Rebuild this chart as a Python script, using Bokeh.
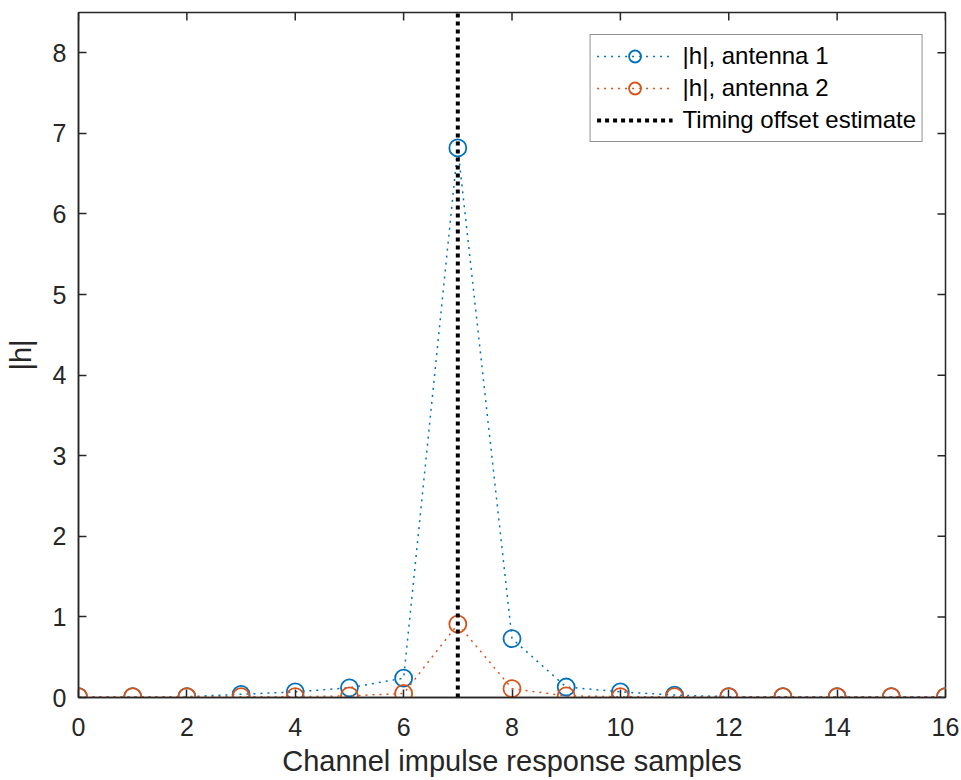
import math
from bokeh.plotting import figure
from bokeh.models import Range1d, FixedTicker, Legend, LegendItem
from bokeh.embed import file_html
from bokeh.resources import INLINE

# ---- data ----
samples = list(range(17))
h_ant1 = [0.01, 0.01, 0.01, 0.04, 0.07, 0.12, 0.24, 6.82, 0.73, 0.13, 0.07, 0.03, 0.01, 0.01, 0.01, 0.01, 0.01]
h_ant2 = [0.01, 0.01, 0.01, 0.01, 0.01, 0.02, 0.05, 0.91, 0.11, 0.02, 0.01, 0.01, 0.01, 0.01, 0.01, 0.01, 0.01]
timing_offset = 7
label_ant1 = "|h|, antenna 1"
label_ant2 = "|h|, antenna 2"
label_offset = "Timing offset estimate"
x_ticks = [0, 2, 4, 6, 8, 10, 12, 14, 16]
y_ticks = [0, 1, 2, 3, 4, 5, 6, 7, 8]
x_lim = (0, 16)
y_lim = (0, 8.5)

BLUE = "#0072BD"
ORANGE = "#D95319"
AX = "#262626"
FONT = "Liberation Sans"

p = figure(width=961, height=780, output_backend="svg", toolbar_location=None,
           x_range=Range1d(*x_lim), y_range=Range1d(*y_lim),
           min_border_left=78, min_border_right=16, min_border_top=12, min_border_bottom=83)
p.grid.visible = False
p.outline_line_color = AX
p.outline_line_width = 1.5
p.background_fill_color = "white"
p.border_fill_color = "white"

for ax in (p.xaxis[0], p.yaxis[0]):
    ax.axis_line_color = AX
    ax.axis_line_width = 1.5
    ax.major_tick_line_color = AX
    ax.major_tick_line_width = 1.5
    ax.major_tick_in = 8
    ax.major_tick_out = 0
    ax.minor_tick_line_color = None
    ax.major_label_text_font = FONT
    ax.major_label_text_color = AX
    ax.major_label_text_font_size = "25px"
    ax.axis_label_text_font = FONT
    ax.axis_label_text_color = AX
    ax.axis_label_text_font_style = "normal"
    ax.axis_label_text_font_size = "29px"

p.xaxis.ticker = FixedTicker(ticks=x_ticks)
p.yaxis.ticker = FixedTicker(ticks=y_ticks)
p.xaxis.axis_label = "Channel impulse response samples"
p.yaxis.axis_label = "|h|"
p.xaxis.major_label_standoff = 20
p.xaxis.axis_label_standoff = 6
p.yaxis.major_label_standoff = 12
p.yaxis.axis_label_standoff = 13

# inward ticks on the top and right edges (half of each dash is clipped by the frame)
p.scatter(x_ticks, [y_lim[1]] * len(x_ticks), marker="dash", angle=math.pi / 2,
          size=16, line_color=AX, line_width=1.5)
p.scatter([x_lim[1]] * len(y_ticks), y_ticks, marker="dash",
          size=16, line_color=AX, line_width=1.5)

l1 = p.line(samples, h_ant1, line_color=BLUE, line_width=1.5, line_dash="2 5")
s1 = p.scatter(samples, h_ant1, marker="circle", size=17, fill_color=None,
               line_color=BLUE, line_width=1.8)
l2 = p.line(samples, h_ant2, line_color=ORANGE, line_width=1.5, line_dash="2 5")
s2 = p.scatter(samples, h_ant2, marker="circle", size=17, fill_color=None,
               line_color=ORANGE, line_width=1.8)
vl = p.line([timing_offset, timing_offset], [y_lim[0], y_lim[1]],
            line_color="black", line_width=4, line_dash="4 4")

legend = Legend(items=[
    LegendItem(label=label_ant1, renderers=[l1, s1]),
    LegendItem(label=label_ant2, renderers=[l2, s2]),
    LegendItem(label=label_offset, renderers=[vl]),
], location="top_right")
legend.margin = 22
legend.padding = 6
legend.spacing = 2
legend.glyph_width = 76
legend.glyph_height = 30
legend.label_height = 30
legend.label_standoff = 10
legend.label_text_font = FONT
legend.label_text_font_size = "24px"
legend.label_text_color = "black"
legend.border_line_color = AX
legend.border_line_width = 1.5
legend.background_fill_color = "white"
legend.background_fill_alpha = 1.0
p.add_layout(legend, "center")

open("out.html", "w").write(file_html(p, INLINE))
